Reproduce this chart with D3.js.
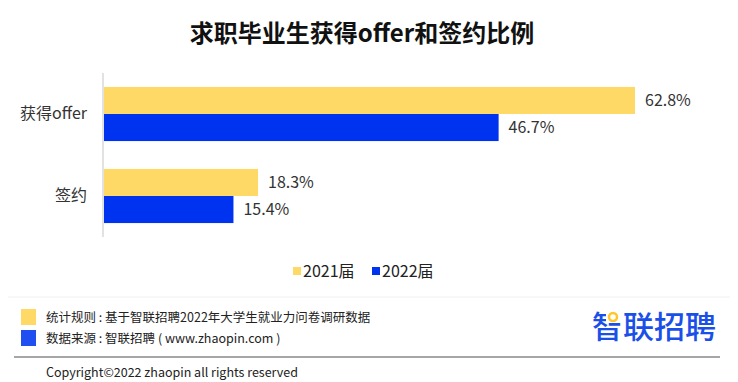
<!DOCTYPE html>
<html>
<head>
<meta charset="utf-8">
<script src="https://cdn.jsdelivr.net/npm/d3@7"></script>
<style>
  body { margin: 0; background: #fff; }
  text { font-family: "Noto Sans CJK SC", "Noto Sans", sans-serif; }
</style>
</head>
<body>
<script>
const categories = ["获得offer", "签约"];
const seriesNames = ["2021届", "2022届"];
const values2021 = [62.8, 18.3];
const values2022 = [46.7, 15.4];
const colors = ["#ffd966", "#0033f0"];
const footnotes = ["统计规则 : 基于智联招聘2022年大学生就业力问卷调研数据", "数据来源 : 智联招聘 ( www.zhaopin.com )"];

const width = 738, height = 382;

const svg = d3.select("body")
    .append("svg")
    .attr("width", width)
    .attr("height", height);

// title
svg.append("text")
    .attr("x", 362)
    .attr("y", 42)
    .attr("text-anchor", "middle")
    .attr("font-size", 24)
    .attr("font-weight", "bold")
    .attr("fill", "#111")
    .text("求职毕业生获得offer和签约比例");

// scales
const x = d3.scaleLinear()
    .domain([0, d3.max(values2021)])
    .range([103, 635]);

const y0 = d3.scaleBand()
    .domain(categories)
    .range([73, 237])
    .paddingInner(0.34)
    .paddingOuter(0.17);

const y1 = d3.scaleBand()
    .domain(seriesNames)
    .range([0, y0.bandwidth()]);

const rows = categories.map((c, i) => ({
    cat: c,
    vals: [values2021[i], values2022[i]].map((v, j) => ({ s: seriesNames[j], v: v, color: colors[j] }))
}));

// category axis
const yAxis = svg.append("g")
    .attr("transform", `translate(${x(0)},0)`)
    .call(d3.axisLeft(y0).tickSize(0).tickPadding(16));
yAxis.select(".domain").remove();
yAxis.selectAll("text")
    .attr("font-size", 16)
    .attr("fill", "#333")
    .style("font-family", "'Noto Sans CJK SC', sans-serif");

svg.append("line")
    .attr("x1", x(0)).attr("x2", x(0))
    .attr("y1", 73).attr("y2", 237)
    .attr("stroke", "#d9d9d9")
    .attr("stroke-width", 1.5);

// bars
const group = svg.selectAll("g.grp")
    .data(rows)
    .join("g")
    .attr("class", "grp")
    .attr("transform", d => `translate(0,${y0(d.cat)})`);

group.selectAll("rect")
    .data(d => d.vals)
    .join("rect")
    .attr("x", x(0) + 1)
    .attr("y", d => y1(d.s))
    .attr("width", d => x(d.v) - x(0) - 1)
    .attr("height", y1.bandwidth())
    .attr("fill", d => d.color);

group.selectAll("text.val")
    .data(d => d.vals)
    .join("text")
    .attr("class", "val")
    .attr("x", d => x(d.v) + 10)
    .attr("y", d => y1(d.s) + y1.bandwidth() / 2)
    .attr("dy", "0.35em")
    .attr("font-size", 16)
    .attr("fill", "#333")
    .text(d => d.v.toFixed(1) + "%");

// legend
const legend = svg.append("g")
    .selectAll("g")
    .data(seriesNames)
    .join("g")
    .attr("transform", (d, i) => `translate(${293 + i * 79},271)`);
legend.append("rect")
    .attr("x", 0).attr("y", -4)
    .attr("width", 8).attr("height", 8)
    .attr("fill", (d, i) => colors[i]);
legend.append("text")
    .attr("x", 10)
    .attr("dy", "0.35em")
    .attr("font-size", 16)
    .attr("fill", "#222")
    .text(d => d);

// footer
svg.append("line")
    .attr("x1", 8).attr("x2", 730)
    .attr("y1", 297).attr("y2", 297)
    .attr("stroke", "#f0f0f0");

const foot = svg.append("g")
    .selectAll("g")
    .data(footnotes)
    .join("g")
    .attr("transform", (d, i) => `translate(0,${318 + i * 21})`);
foot.append("rect")
    .attr("x", 21).attr("y", -9)
    .attr("width", 15).attr("height", 16)
    .attr("fill", (d, i) => i === 0 ? "#ffd966" : "#1f4ff0");
foot.append("text")
    .attr("x", 46)
    .attr("dy", "0.35em")
    .attr("font-size", 12.5)
    .attr("fill", "#222")
    .text(d => d);

svg.append("line")
    .attr("x1", 14).attr("x2", 720)
    .attr("y1", 357).attr("y2", 357)
    .attr("stroke", "#888")
    .attr("stroke-width", 1.5);

svg.append("text")
    .attr("x", 46)
    .attr("y", 373)
    .attr("dy", "0.35em")
    .attr("font-size", 12.5)
    .attr("fill", "#222")
    .text("Copyright©2022 zhaopin all rights reserved");

// logo
svg.append("text")
    .attr("x", 592)
    .attr("y", 338)
    .attr("font-size", 31)
    .attr("font-weight", 500)
    .attr("fill", "#1a4fe8")
    .text("智联招聘");
// yellow ring on 智
svg.append("rect")
    .attr("x", 606).attr("y", 310)
    .attr("width", 15).attr("height", 13)
    .attr("fill", "#fff");
svg.append("circle")
    .attr("cx", 613).attr("cy", 317)
    .attr("r", 4)
    .attr("fill", "none")
    .attr("stroke", "#ffc629")
    .attr("stroke-width", 2.5);
</script>
</body>
</html>
